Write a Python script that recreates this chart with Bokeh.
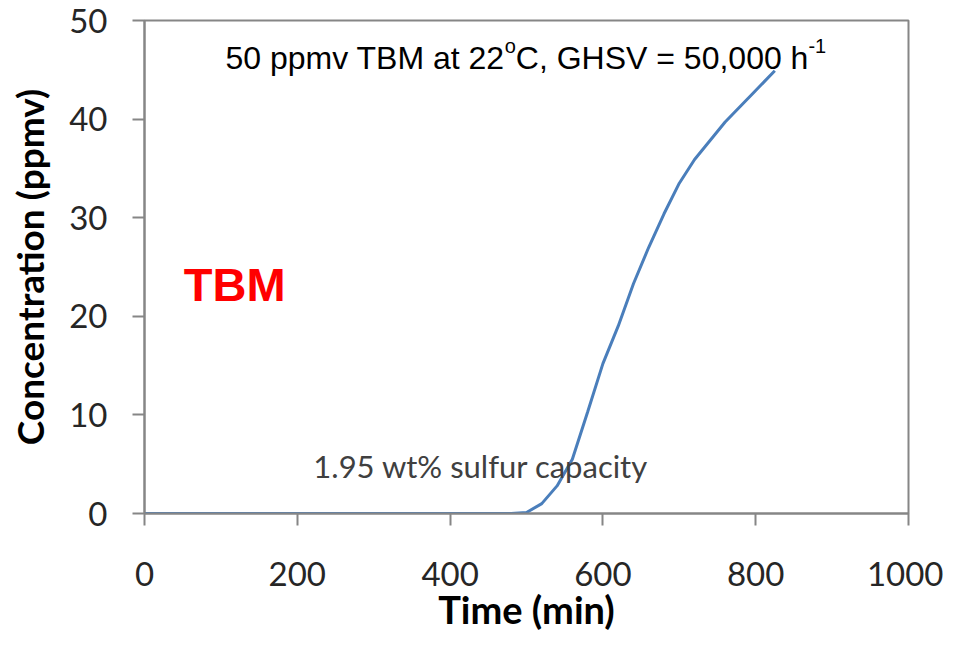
from bokeh.plotting import figure
from bokeh.models import Range1d, FixedTicker, Label
from bokeh.embed import file_html
from bokeh.resources import INLINE

# data
time_min = [0, 100, 200, 300, 400, 480, 500, 520, 540, 560, 580, 600, 620, 640,
            660, 680, 700, 720, 740, 760, 780, 800, 825]
conc_ppmv = [0, 0, 0, 0, 0, 0, 0.1, 1.0, 2.8, 5.5, 10.3, 15.2, 19.0, 23.3,
             27.0, 30.4, 33.5, 35.9, 37.8, 39.7, 41.3, 42.9, 44.9]
x_ticks = [0, 200, 400, 600, 800, 1000]
y_ticks = [0, 10, 20, 30, 40, 50]

p = figure(width=943, height=634, output_backend="svg", toolbar_location=None,
           x_range=Range1d(0, 1000), y_range=Range1d(0, 50))
p.min_border_left = 144
p.min_border_right = 35
p.min_border_top = 20
p.min_border_bottom = 120
p.xgrid.visible = False
p.ygrid.visible = False
p.outline_line_color = "#868686"
p.outline_line_width = 2
p.background_fill_color = "white"
p.border_fill_color = "white"

p.line(time_min, conc_ppmv, line_color="#4A7EBB", line_width=3)

p.xaxis.ticker = FixedTicker(ticks=x_ticks)
p.yaxis.ticker = FixedTicker(ticks=y_ticks)
for ax in (p.xaxis[0], p.yaxis[0]):
    ax.axis_line_color = "#868686"
    ax.axis_line_width = 2
    ax.major_tick_line_color = "#868686"
    ax.major_tick_line_width = 2
    ax.major_tick_in = 0
    ax.major_tick_out = 12
    ax.minor_tick_line_color = None
    ax.major_label_text_font = "Lato"
    ax.major_label_text_font_size = "33px"
    ax.major_label_text_color = "#262626"
    ax.axis_label_text_font = "Lato"
    ax.axis_label_text_font_style = "bold"
    ax.axis_label_text_color = "#000000"

p.yaxis.axis_label = "Concentration (ppmv)"
p.yaxis.axis_label_text_font_size = "37px"
p.xaxis.axis_label = "Time (min)"
p.xaxis.axis_label_text_font_size = "38px"
p.xaxis.major_label_standoff = 36
p.yaxis.major_label_standoff = 25
p.yaxis.axis_label_standoff = 14
p.xaxis.axis_label_standoff = -3

def lab(x, y, text, font, size, color="#000000", style="normal", align="left"):
    p.add_layout(Label(x=x, y=y, text=text, text_font=font, text_font_size=size,
                       text_color=color, text_font_style=style,
                       text_align=align, text_baseline="alphabetic"))

# chart title with superscripts
lab(106.0, 46.2, "50 ppmv TBM at 22", "Liberation Sans", "32px")
lab(471.5, 47.4, "o", "Liberation Sans", "20px")
lab(486.0, 46.2, "C, GHSV = 50,000 h", "Liberation Sans", "32px")
lab(869.0, 47.4, "-1", "Liberation Sans", "20px")

lab(51.5, 23.2, "TBM", "Liberation Sans", "47px", color="#FF0000", style="bold")
lab(221.0, 4.78, "1.95 wt% sulfur capacity", "Lato", "31px", color="#404040")

open("out.html", "w").write(file_html(p, INLINE))
